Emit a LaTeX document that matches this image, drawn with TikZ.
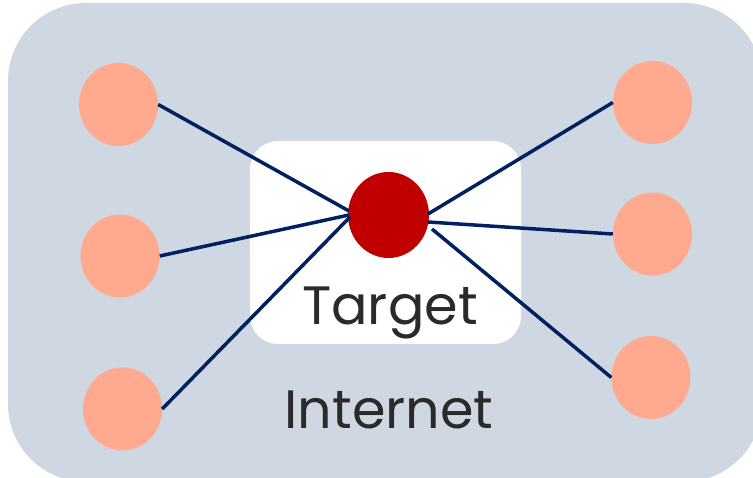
\documentclass[tikz,border=0pt]{standalone}
\usepackage{fontspec}
\setmainfont{Poppins}
\usetikzlibrary{shapes.geometric}
\definecolor{zonebg}{HTML}{CFD7E2}
\definecolor{peer}{HTML}{FFA98F}
\definecolor{hub}{HTML}{C00000}
\definecolor{link}{HTML}{002060}
\definecolor{label}{HTML}{2A2A2A}
\tikzset{
  peernode/.style={ellipse, fill=peer, inner sep=0pt, minimum width=79pt, minimum height=83pt},
  hubnode/.style={ellipse, fill=hub, inner sep=0pt, minimum width=81pt, minimum height=86pt},
  linkline/.style={draw=link, line width=3.5pt},
  caption/.style={text=label, font=\fontsize{54}{60}\selectfont, anchor=base, inner sep=0pt}
}
\begin{document}
\begin{tikzpicture}[x=1pt, y=-1pt]
  \useasboundingbox (0,0) rectangle (753,478);
  \clip (0,0) rectangle (753,478);
  % outer zone
  \fill[zonebg, rounded corners=78pt] (8,3) rectangle (762,482);
  % inner zone around the target
  \fill[white, rounded corners=28pt] (250,141) rectangle (521,344);
  % nodes
  \node[hubnode] (t) at (388.5,215) {};
  \node[peernode] (l1) at (118.5,104.5) {};
  \node[peernode] (l2) at (120,256) {};
  \node[peernode] (l3) at (122.5,409) {};
  \node[peernode] (r1) at (652.5,102.5) {};
  \node[peernode] (r2) at (652.5,234) {};
  \node[peernode] (r3) at (651,377.5) {};
  \coordinate (tl1) at (349,211);
  \coordinate (tl2) at (349,215);
  \coordinate (tl3) at (350,217);
  \coordinate (tr1) at (428,214);
  \coordinate (tr2) at (428,222);
  \coordinate (tr3) at (432,229);
  % connectors
  \draw[linkline] (l1.east) -- (tl1);
  \draw[linkline] (l2.east) -- (tl2);
  \draw[linkline] (l3.east) -- (tl3);
  \draw[linkline] (tr1) -- (r1.west);
  \draw[linkline] (tr2) -- (r2.west);
  \draw[linkline] (tr3) -- (r3.west);
  % labels
  \node[caption] (tlabel) at (390,325) {Target};
  \node[caption] (ilabel) at (389,429) {Internet};
\end{tikzpicture}
\end{document}
